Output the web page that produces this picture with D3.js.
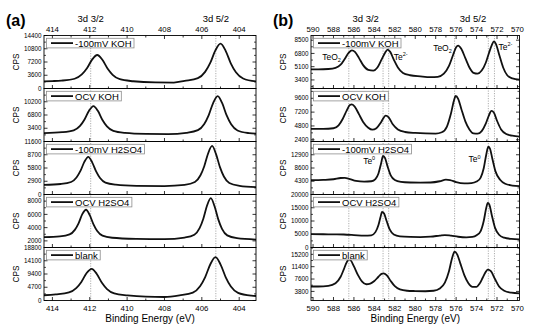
<!DOCTYPE html>
<html><head><meta charset="utf-8">
<script src="https://cdn.jsdelivr.net/npm/d3@7"></script>
<style>body{margin:0;background:#fff} svg{display:block;font-family:"Liberation Sans",Arial,sans-serif}</style>
</head><body><svg id="c" width="546" height="328"></svg>
<script>
// ---------- data ----------
const seriesNames = ["-100mV KOH","OCV KOH","-100mV H2SO4","OCV H2SO4","blank"];

const leftXTicks = [414,412,410,408,406,404];
const leftRefLines = [411.95,405.25];
const leftTopLabels = [["3d 3/2",411.95],["3d 5/2",405.25]];
const leftDomains = [[0,14400],[0,13600],[0,11600],[1000,9000],[0,18800]];
const leftYTicks = [[0,3600,7200,10800,14400],[3400,6800,10200],[0,2900,5800,8700,11600],[2000,4000,6000,8000],[0,4700,9400,14100,18800]];

const L1_E = [414.5,414.0,413.525,412.81,412.425,412.15,411.875,411.6,411.325,411.05,410.775,410.39,409.675,408.5,407.5,406.925,406.21,405.825,405.55,405.275,405.0,404.725,404.45,404.175,403.79,403.1];
const L1_C = [1950,2020,2140,2650,3820,5500,7840,9100,7790,5430,3730,2520,1970,1650,1620,2070,2820,4510,6950,10340,12200,10240,6850,4410,2720,1920];
const L2_E = [414.5,413.48,412.86,412.52,412.28,412.04,411.8,411.56,411.32,411.08,410.74,410.12,409.0,407.8,406.83,406.21,405.87,405.63,405.39,405.15,404.91,404.67,404.43,404.09,403.47,403.1];
const L2_C = [2150,2380,2880,4020,5650,7920,9100,7800,5520,3880,2730,2210,1950,1900,2240,2930,4510,6780,9930,11650,9830,6680,4410,2830,2140,2000];
const L3_E = [414.5,413.55,413.0,412.71,412.5,412.29,412.08,411.87,411.66,411.45,411.16,410.61,409.5,408.0,406.92,406.37,406.08,405.87,405.66,405.45,405.24,405.03,404.82,404.53,403.98,403.1];
const L3_C = [2100,2300,2730,3720,5150,7130,8250,7030,5040,3600,2600,2150,1900,1850,2100,2730,4150,6190,9030,10630,8830,5990,3950,2530,1900,1600];
const L4_E = [414.5,413.6,413.08,412.8,412.6,412.4,412.2,412.0,411.8,411.6,411.32,410.8,409.5,408.0,406.92,406.4,406.12,405.92,405.72,405.52,405.32,405.12,404.92,404.64,404.12,403.1];
const L4_C = [2550,2670,2970,3660,4650,6030,6700,5880,4490,3490,2790,2470,2300,2250,2500,2930,3920,5350,7330,8450,7230,5250,3820,2830,2400,2200];
const L5_E = [414.5,413.825,413.11,412.725,412.45,412.175,411.9,411.625,411.35,411.075,410.69,409.975,409.0,408.0,407.195,406.48,406.095,405.82,405.545,405.27,404.995,404.72,404.445,404.06,403.345,403.1];
const L5_C = [1850,2180,2860,4390,6600,9670,11240,9420,6300,4070,2520,1820,1350,1250,1820,2810,5070,8330,12850,15400,12750,8230,4970,2710,1720,1600];

const rightXTicks = [590,588,586,584,582,580,578,576,574,572,570];
const rightRefLines = [586.5,583.15,582.6,576.15,572.85,572.25];
const rightTopLabels = [["3d 3/2",584.85],["3d 5/2",574.35]];
const rightDomains = [[2300,9100],[2100,11300],[0,17200],[0,20000],[1000,17300]];
const rightYTicks = [[3400,5100,6800,8500],[2400,4800,7200,9600],[4300,8600,12900],[0,5000,10000,15000,20000],[3800,7600,11400,15200]];

const R1_E = [590.2,589.5,588.5,587.8,587.3,586.9,586.5,586.2,585.9,585.5,585.1,584.6,584.1,583.7,583.3,582.95,582.7,582.45,582.1,581.7,581.2,580.5,579.5,578.5,577.8,577.2,576.7,576.3,576.0,575.8,575.5,575.1,574.7,574.3,573.9,573.5,573.1,572.8,572.5,572.3,572.1,571.8,571.4,571.0,570.5,569.8];
const R1_C = [4750,4750,4800,4950,5350,6100,6900,7200,7000,6200,5300,4700,4600,5000,6000,6900,7300,7000,6000,5000,4300,4000,3850,3750,3800,4200,5200,6600,7600,7800,7400,6200,5000,4300,4200,4600,5600,6800,7900,8350,8000,6700,5000,4000,3600,3450];
const R2_E = [590.2,589,588,587.5,587.1,586.7,586.4,586.2,585.9,585.5,585.1,584.6,584.2,583.8,583.4,583.1,582.9,582.6,582.2,581.7,581.0,580,579,578,577.4,576.9,576.5,576.2,576.05,575.8,575.5,575.1,574.7,574.3,573.9,573.5,573.1,572.8,572.55,572.3,572.0,571.6,571.1,570.5,569.8];
const R2_C = [4300,4300,4400,4900,6000,7500,8450,8550,8100,6800,5500,4500,4150,4400,5300,6200,6600,6300,5100,4200,3750,3580,3500,3480,3700,4700,7000,9300,10000,9500,7800,5600,4200,3500,3450,3900,5200,6600,7400,7100,5700,4200,3400,3100,2950];
const R3_E = [590.2,589,588,587.3,586.9,586.4,585.8,585,584.3,583.9,583.6,583.35,583.15,582.95,582.7,582.4,582.0,581.4,580.5,579.5,578.5,577.6,577.0,576.6,576.0,575.2,574.5,574.0,573.6,573.3,573.05,572.85,572.7,572.45,572.15,571.7,571.2,570.5,569.8];
const R3_C = [4650,4750,4950,5350,5400,5000,4400,4150,4300,5000,6800,10000,12500,11800,9000,6200,4700,4100,3900,3850,3900,4300,4800,4700,4000,3600,3700,4200,5500,8500,13000,15500,15000,11500,7500,4800,3500,2900,2700];
const R4_E = [590.2,589,588,587,586,585,584.3,583.9,583.6,583.4,583.25,583.05,582.8,582.5,582.1,581.5,580.5,579.5,578.5,577.6,577.1,576.5,575.8,575,574.4,574,573.6,573.3,573.05,572.9,572.75,572.5,572.2,571.8,571.3,570.6,569.8];
const R4_C = [5050,5000,4950,4900,4700,4450,4600,5800,8500,11500,13400,12800,10000,6800,4900,4200,4000,3950,4100,4500,4700,4450,4050,3850,4000,4600,6200,10000,15000,16800,16200,12000,7500,4800,3700,3250,3100];
const R5_E = [590.2,589.5,588.5,587.8,587.3,587.0,586.7,586.5,586.3,586.0,585.6,585.2,584.8,584.4,584.0,583.6,583.3,583.1,582.8,582.4,582.0,581.5,580.8,580,579,578.2,577.6,577.1,576.7,576.4,576.15,575.9,575.6,575.2,574.8,574.4,574.0,573.7,573.4,573.1,572.9,572.6,572.2,571.8,571.3,570.6,569.8];
const R5_C = [5300,5300,5500,6300,8300,10500,12800,13650,13300,11500,8800,6800,6000,6200,7000,8300,9200,9350,8800,7000,5400,4400,4000,3900,3850,4000,4700,6500,10000,14000,16050,15200,12500,8800,6300,5200,5200,6200,8000,9800,10500,10000,7600,5300,4000,3400,3200];

// annotations: [panel, energy, value, main, script, scriptType]
const rightNotes = [
  [0,589.1,5950,"TeO","2","sub"],
  [0,582.1,5950,"Te","2-","sup"],
  [0,578.25,7100,"TeO","2","sub"],
  [0,571.85,7250,"Te","2-","sup"],
  [2,585.1,9900,"Te","0","sup"],
  [2,574.8,10500,"Te","0","sup"]
];

// ---------- drawing ----------
const svg = d3.select("#c");
const Y0 = 35.5, PH = 53;

function drawChart(cfg){
  const g = svg.append("g");
  const x = d3.scaleLinear().domain(cfg.xDomain).range([cfg.x0, cfg.x1]);
  const xMinor = d3.range(Math.ceil(Math.min(...cfg.xDomain)), Math.floor(Math.max(...cfg.xDomain))+1, 1);
  const bottom = Y0 + PH*5;

  // title
  g.append("text").attr("x", cfg.titleX).attr("y", 26).attr("font-size", 16).attr("font-weight", "bold").text(cfg.title);
  // top labels
  cfg.topLabels.forEach(([t,e]) => g.append("text").attr("x", x(e)).attr("y", 22).attr("text-anchor","middle").attr("font-size", 9.5).text(t));
  // top tick labels
  cfg.xTicks.forEach(t => g.append("text").attr("x", x(t)).attr("y", Y0-3.5).attr("text-anchor","middle").attr("font-size", 7.8).text(t));
  // bottom tick labels
  cfg.xTicks.forEach(t => g.append("text").attr("x", x(t)).attr("y", bottom+10.5).attr("text-anchor","middle").attr("font-size", 7.8).text(t));
  g.append("text").attr("x", (cfg.x0+cfg.x1)/2).attr("y", bottom+21).attr("text-anchor","middle").attr("font-size", 10).text("Binding Energy (eV)");

  // reference lines
  cfg.refLines.forEach(e => g.append("line").attr("x1", x(e)).attr("x2", x(e)).attr("y1", Y0).attr("y2", bottom)
    .attr("stroke","#8a8a8a").attr("stroke-width",0.7).attr("stroke-dasharray","1.2,1.3"));

  // top ticks on first panel
  xMinor.forEach(t => {
    const major = cfg.xTicks.includes(t);
    g.append("line").attr("x1", x(t)).attr("x2", x(t)).attr("y1", Y0).attr("y2", Y0 + (major?3.5:2)).attr("stroke","#000").attr("stroke-width",0.8);
  });

  cfg.series.forEach((s, i) => {
    const top = Y0 + PH*i, bot = top + PH;
    const y = d3.scaleLinear().domain(cfg.domains[i]).range([bot, top]);
    const clipId = cfg.id + "clip" + i;
    g.append("clipPath").attr("id", clipId).append("rect").attr("x", cfg.x0).attr("y", top).attr("width", cfg.x1-cfg.x0).attr("height", PH);

    // bottom ticks
    xMinor.forEach(t => {
      const major = cfg.xTicks.includes(t);
      g.append("line").attr("x1", x(t)).attr("x2", x(t)).attr("y1", bot).attr("y2", bot - (major?3.5:2)).attr("stroke","#000").attr("stroke-width",0.8);
    });
    // y ticks
    const ticks = cfg.yTicks[i];
    const step = ticks[1]-ticks[0];
    const dom = cfg.domains[i];
    const minors = [];
    for (let v = ticks[0] - step*10; v <= dom[1] + 1e-6; v += step/2) {
      if (v >= dom[0]-1e-6 && !ticks.some(t => Math.abs(t-v) < 1e-6)) minors.push(v);
    }
    ticks.forEach(t => {
      g.append("line").attr("x1", cfg.x0).attr("x2", cfg.x0+3.5).attr("y1", y(t)).attr("y2", y(t)).attr("stroke","#000").attr("stroke-width",0.8);
      g.append("line").attr("x1", cfg.x1).attr("x2", cfg.x1-3.5).attr("y1", y(t)).attr("y2", y(t)).attr("stroke","#000").attr("stroke-width",0.8);
      g.append("text").attr("x", cfg.x0-2.5).attr("y", y(t)).attr("dy","0.35em").attr("text-anchor","end").attr("font-size", 6.3).text(t);
    });
    minors.forEach(t => {
      g.append("line").attr("x1", cfg.x0).attr("x2", cfg.x0+2).attr("y1", y(t)).attr("y2", y(t)).attr("stroke","#000").attr("stroke-width",0.7);
      g.append("line").attr("x1", cfg.x1).attr("x2", cfg.x1-2).attr("y1", y(t)).attr("y2", y(t)).attr("stroke","#000").attr("stroke-width",0.7);
    });
    // CPS
    g.append("text").attr("transform", `translate(${cfg.x0-28},${top+PH/2}) rotate(-90)`).attr("text-anchor","middle").attr("dy","0.35em").attr("font-size", 8.2).text("CPS");

    // curve
    const data = s.E.map((e,k) => [e, s.C[k]]);
    const line = d3.line().x(d => x(d[0])).y(d => y(d[1])).curve(d3.curveMonotoneX);
    g.append("path").attr("clip-path", `url(#${clipId})`).attr("d", line(data)).attr("fill","none").attr("stroke","#111").attr("stroke-width",1.8).attr("stroke-linejoin","round");

    // legend
    const lg = g.append("g");
    const rect = lg.append("rect").attr("x", cfg.x0+2.5).attr("y", top+2.8).attr("height", 9.6).attr("fill","#fff").attr("stroke","#8c8c8c").attr("stroke-width",0.8);
    lg.append("line").attr("x1", cfg.x0+7).attr("x2", cfg.x0+29).attr("y1", top+7.6).attr("y2", top+7.6).attr("stroke","#111").attr("stroke-width",1.8);
    const tx = lg.append("text").attr("x", cfg.x0+31).attr("y", top+11).attr("font-size", 9.5).text(seriesNames[i]);
    rect.attr("width", tx.node().getComputedTextLength() + 31 - 2.5 + 2.5);

    // notes
    (cfg.notes||[]).filter(n => n[0]===i).forEach(n => {
      const t = g.append("text").attr("x", x(n[1])).attr("y", y(n[2])).attr("font-size", 8.5).text(n[3]);
      t.append("tspan").attr("font-size", 5.5).attr("dy", n[5]==="sub" ? 2.2 : -3.6).text(n[4]);
    });

    // frame
    g.append("rect").attr("x", cfg.x0).attr("y", top).attr("width", cfg.x1-cfg.x0).attr("height", PH).attr("fill","none").attr("stroke","#000").attr("stroke-width",0.9);
  });
}

drawChart({
  id:"L", title:"(a)", titleX:6, x0:44, x1:256, xDomain:[414.45,403.1],
  xTicks:leftXTicks, refLines:leftRefLines, topLabels:leftTopLabels,
  domains:leftDomains, yTicks:leftYTicks,
  series:[{E:L1_E,C:L1_C},{E:L2_E,C:L2_C},{E:L3_E,C:L3_C},{E:L4_E,C:L4_C},{E:L5_E,C:L5_C}]
});
drawChart({
  id:"R", title:"(b)", titleX:273, x0:311, x1:519.5, xDomain:[590.2,569.8],
  xTicks:rightXTicks, refLines:rightRefLines, topLabels:rightTopLabels,
  domains:rightDomains, yTicks:rightYTicks, notes:rightNotes,
  series:[{E:R1_E,C:R1_C},{E:R2_E,C:R2_C},{E:R3_E,C:R3_C},{E:R4_E,C:R4_C},{E:R5_E,C:R5_C}]
});
</script></body></html>
